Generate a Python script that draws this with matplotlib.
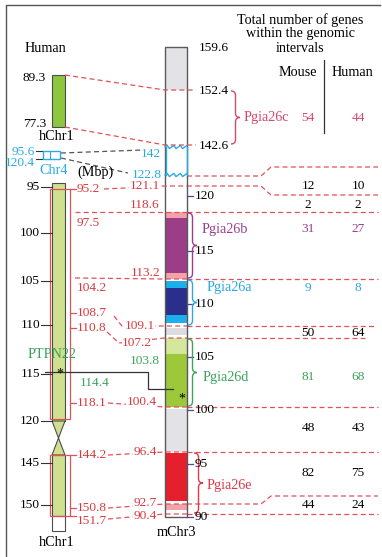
import numpy as np
import matplotlib.pyplot as plt
from matplotlib.path import Path
from matplotlib.patches import PathPatch, Rectangle, Polygon

plt.rcParams['font.family'] = ['Liberation Serif', 'DejaVu Serif']

# ---------------- data (Mbp) ----------------
hum_ticks = [95, 100, 105, 110, 115, 120, 145, 150]
mus_ticks = [120, 115, 110, 105, 100, 95, 90]
mus_top = [159.6, 152.4, 142.6]

hfrag = [89.3, 77.3]          # upper human chr1 piece
h4frag = [95.6, 120.4]        # human chr4 piece
m4frag = [142, 122.8]         # where chr4 lands on mouse chr3

# syntenic boundaries human chr1 <-> mouse chr3
hum_bounds = [95.2, 97.5, 104.2, 108.7, 110.8, 118.1, 144.2, 150.8, 151.7]
mus_bounds = [121.1, 118.6, 113.2, 109.1, 107.2, 100.4, 96.4, 92.7, 90.4]

ptpn22_h = 114.4
ptpn22_m = 103.8

# mouse chr3 bands
band_top = [159.6, 118.6, 118.05, 113.6, 112.95, 112.05, 109.55, 108.8, 107.2, 105.4, 100.2, 96.3, 92.6, 90.65]
band_bot = [152.4, 118.05, 113.6, 113.2, 112.05, 109.55, 109.22, 107.65, 105.4, 100.4, 96.4, 92.9, 91.3, 90.0]
band_col = ['#e3e3e5', '#f3a2a8', '#9c3d87', '#f3a2a8', '#1cb0ea', '#2a2f8c', '#1cb0ea',
            '#dddddf', '#d5e69d', '#9cc83a', '#e3e3e5', '#e61f2d', '#f3a2a8', '#ffffff']

# QTL intervals on mouse chr3
loci = ['Pgia26c', 'Pgia26b', 'Pgia26a', 'Pgia26d', 'Pgia26e']
loci_top = [152.4, 118.6, 113.2, 107.2, 96.4]
loci_bot = [142.6, 113.2, 109.1, 100.4, 90.4]
loci_col = ['#d6476a', '#9c3d8c', '#2aa9e0', '#3aa35c', '#e03848']

# gene counts per interval
row_mouse = [54, 12, 2, 31, 9, 50, 81, 48, 82, 44]
row_human = [44, 10, 2, 27, 8, 64, 68, 43, 75, 24]
row_col = [loci_col[0], 'k', 'k', loci_col[1], loci_col[2], 'k', loci_col[3], 'k', 'k', 'k']

# ---------------- layout (non linear schematic scales -> pixel rows) ----------------
hk_v = [94.5, 95, 97.5, 100, 104.2, 105, 108.7, 110, 110.8, 114.4, 115, 118.1, 120,
        144.2, 145, 150, 150.8, 151.7, 153.5]
hk_y = [183, 187, 212, 233, 278, 281, 313, 325, 328, 372, 374, 403, 421,
        455, 463, 505, 508, 516, 531]
mk_v = [159.6, 152.4, 142.6, 142, 122.8, 121.1, 120, 118.6, 115, 113.2, 110, 109.1,
        107.2, 105, 103.8, 100.4, 100, 96.4, 95, 92.7, 90.4, 90]
mk_y = [47, 90, 145, 147, 175, 186, 196, 212, 251, 279, 304, 326,
        338, 357, 389, 407, 410, 452, 464, 504, 514, 517]


def yh(v):
    return np.interp(v, hk_v, hk_y)


def ym(v):
    return np.interp(-np.asarray(v, float), -np.array(mk_v), mk_y)


def yf(v):
    return np.interp(-v, [-89.3, -77.3], [75, 127])


def yc(v):
    return np.interp(v, [95.6, 120.4], [151, 159])


RED = '#e0515b'
TRED = '#d8393f'
BLUE = '#29abe2'
GREEN = '#3aa35c'
FS = 9.6      # numbers
FW = 10.2     # words
DASH = (0, (4, 2.6))

fig = plt.figure(figsize=(3.82, 5.57), dpi=100)
ax = fig.add_axes([0, 0, 1, 1])
ax.set_xlim(0, 382)
ax.set_ylim(557, 0)
ax.axis('off')

# frame
ax.plot([6, 6, 380], [557, 5, 5], color='#555555', lw=1.0)


def txt(x, y, s, color='k', ha='left', size=FS, bg=False, **kw):
    t = ax.text(x, y, s, color=color, ha=ha, va='center', fontsize=size, zorder=6, **kw)
    if bg:
        t.set_bbox(dict(facecolor='white', edgecolor='none', pad=0.3))
    return t


def brace(x, y0, y1, ytip, w, color):
    r = w / 2.0
    verts = [(x, y0), (x + r, y0), (x + r, y0 + r),
             (x + r, ytip - r), (x + r, ytip), (x + w, ytip),
             (x + r, ytip), (x + r, ytip + r),
             (x + r, y1 - r), (x + r, y1), (x, y1)]
    codes = [Path.MOVETO, Path.CURVE3, Path.CURVE3, Path.LINETO, Path.CURVE3, Path.CURVE3,
             Path.CURVE3, Path.CURVE3, Path.LINETO, Path.CURVE3, Path.CURVE3]
    ax.add_patch(PathPatch(Path(verts, codes), fill=False, ec=color, lw=1.0, zorder=5))


# ---------------- human side ----------------
txt(45, 48, 'Human', ha='center', size=FW)

# upper chr1 fragment
hx0, hx1 = 52, 65
ax.add_patch(Rectangle((hx0, yf(hfrag[0])), hx1 - hx0, yf(hfrag[1]) - yf(hfrag[0]),
                       fc='#8dc63f', ec='#4d4d4d', lw=0.8, zorder=3))
txt(46, yf(hfrag[0]) + 3, '89.3', ha='right')
txt(46, yf(hfrag[1]) - 3, '77.3', ha='right')
txt(57, 137, 'hChr1', ha='center', size=FW)

# chr4 fragment
ax.add_patch(Rectangle((43, yc(h4frag[0])), 17, yc(h4frag[1]) - yc(h4frag[0]),
                       fc='white', ec=BLUE, lw=1.0, zorder=3))
ax.plot([50, 50], [yc(h4frag[0]), yc(h4frag[1])], color=BLUE, lw=0.8, zorder=3)
for v in h4frag:
    ax.plot([36, 43], [yc(v), yc(v)], color='#333333', lw=0.8)
txt(35, yc(h4frag[0]) + 1, '95.6', ha='right', color=BLUE)
txt(35, yc(h4frag[1]) + 4, '120.4', ha='right', color=BLUE)
txt(54, 171, 'Chr4', ha='center', color=BLUE, size=FW)
txt(96, 172, '(Mbp)', ha='center', size=FW)
ax.plot([61, 143], [yc(h4frag[0]) + 2, ym(m4frag[0]) + 3], color='#555555', lw=0.9, ls=DASH)
ax.plot([61, 128], [yc(h4frag[1]) - 1, ym(m4frag[1]) - 2], color='#555555', lw=0.9, ls=DASH)

# main chr1 body with centromere
hw = hx1 - hx0
hum_fill = '#cfe08e'
ax.add_patch(Rectangle((hx0, yh(94.5)), hw, yh(120) - yh(94.5), fc=hum_fill, ec='#4d4d4d', lw=0.8, zorder=3))
c0, c1 = yh(120), yh(144.2)
xm = (hx0 + hx1) / 2.0
cm = (c0 + c1) / 2.0
ax.add_patch(Polygon([(hx0, c0), (hx1, c0), (xm, cm), (hx1, c1), (hx0, c1), (xm, cm)],
                     closed=True, fc=hum_fill, ec='#4d4d4d', lw=0.8, zorder=3))
ax.add_patch(Rectangle((hx0, c1), hw, yh(151.7) - c1, fc=hum_fill, ec='#4d4d4d', lw=0.8, zorder=3))
ax.add_patch(Rectangle((hx0, yh(151.7)), hw, yh(153.5) - yh(151.7), fc='white', ec='#4d4d4d', lw=0.8, zorder=3))
txt(57, 543, 'hChr1', ha='center', size=FW)

# red synteny frames on human chr1
ax.add_patch(Rectangle((49.5, yh(95.2)), 20.5, yh(120) - 2 - yh(95.2), fill=False, ec=RED, lw=0.9, zorder=4))
ax.add_patch(Rectangle((49.5, yh(144.2)), 20.5, yh(151.7) - yh(144.2), fill=False, ec=RED, lw=0.9, zorder=4))
for v in [95.2, 108.7, 110.8, 118.1, 144.2, 150.8, 151.7]:
    ax.plot([70, 76], [yh(v), yh(v)], color=RED, lw=0.9)

# human ticks
for t in hum_ticks:
    ax.plot([41, hx0], [yh(t), yh(t)], color='#333333', lw=0.8, zorder=4)
    txt(40, yh(t), str(t), ha='right')

# human boundary labels (offset from their line where the figure does it)
hlab_dy = [0, 11, 10, 0, 0, 0, 0, 0, 5]
for v, dy in zip(hum_bounds, hlab_dy):
    txt(77, yh(v) + dy, '%.1f' % v, color=TRED)

# ---------------- mouse chr3 ----------------
mx0, mx1 = 165, 187
for t, b, c in zip(band_top, band_bot, band_col):
    ax.add_patch(Rectangle((mx0, ym(t)), mx1 - mx0, ym(b) - ym(t), fc=c, ec='none', zorder=2))
ax.add_patch(Rectangle((mx0, ym(159.6)), mx1 - mx0, ym(90) - ym(159.6), fill=False,
                       ec='#5a5a5a', lw=1.0, zorder=4))
txt(176, 533, 'mChr3', ha='center', size=FW)

# chr4 insertion with break marks
zx = np.linspace(mx0, mx1, 11)
zz = np.array([0, -1.6, 1.6] * 4)[:11]
for v in m4frag:
    ax.plot(zx, ym(v) + zz, color=BLUE, lw=1.0, zorder=5)
for x in [mx0 + 0.5, mx1 - 0.5]:
    ax.plot([x, x], [ym(m4frag[0]), ym(m4frag[1])], color=BLUE, lw=1.0, zorder=5)
txt(161, ym(m4frag[0]) + 7, '142', ha='right', color=BLUE)
txt(162, ym(m4frag[1]), '122.8', ha='right', color=BLUE)

# mouse ticks
for t in mus_ticks:
    ax.plot([mx1, mx1 + 6], [ym(t), ym(t)], color='#4b4b9a', lw=0.9, zorder=4)
    txt(195, ym(t), str(t))
for v in mus_top:
    txt(199, ym(v) + 1, '%.1f' % v)

# upper fragment connections
for hv, mv in zip(hfrag, mus_top[1:]):
    ax.plot([hx1, mx0, 196], [yf(hv), ym(mv), ym(mv)], color=RED, lw=0.9, ls=DASH, zorder=5)

# boundary connections human -> mouse
hstart = [[(104, yh(95.2))],
          [(75, yh(97.5))],
          [(75, yh(104.2))],
          [(114, yh(108.7) + 3), (122, ym(109.1))],
          [(107, yh(110.8) + 4), (119, ym(107.2) + 5)],
          [(108, yh(118.1))],
          [(108, yh(144.2))],
          [(108, yh(150.8))],
          [(108, yh(151.7) + 3)]]
mlab_x = [160, 160, 160, 155, 152, 157, 157, 157, 157]
mlab_dy = [0, -7, -6, 0, 5, -5, 0, -1, 2]
mlab_bg = [True, False, False, True, True, True, True, True, True]
for pts, mv, lx, dy, bg in zip(hstart, mus_bounds, mlab_x, mlab_dy, mlab_bg):
    xs = [p[0] for p in pts] + [mx0, mx1]
    ys = [p[1] for p in pts] + [ym(mv), ym(mv)]
    ax.plot(xs, ys, color=RED, lw=0.9, ls=DASH, zorder=5)
    txt(lx, ym(mv) + dy, '%.1f' % mv, ha='right', color=TRED, bg=bg)

# continuation of boundaries across the table
right_end = [378, 378, 378, 375, 365, 378, 378, 378, 378]
bend = {121.1: 9, 92.7: -8}
for mv, xe in zip(mus_bounds, right_end):
    y = ym(mv)
    if mv in bend:
        ax.plot([mx1, 261, 271, xe], [y, y, y + bend[mv], y + bend[mv]], color=RED, lw=0.9, ls=DASH, zorder=1)
    else:
        ax.plot([mx1, xe], [y, y], color=RED, lw=0.9, ls=DASH, zorder=1)
y = ym(m4frag[1]) + 1
ax.plot([mx1, 261, 271, 378], [y, y, y - 9, y - 9], color=RED, lw=0.9, ls=DASH, zorder=1)

# PTPN22
yp_h, yp_m = yh(ptpn22_h), ym(ptpn22_m)
ax.plot([45, 148, 148, 173], [yp_h, yp_h, yp_m, yp_m], color='#333333', lw=0.9, zorder=5)
txt(60, yp_h + 2, '*', ha='center', size=10)
txt(182, yp_m + 10, '*', ha='center', size=10)
txt(52, yp_h - 17, 'PTPN22', ha='center', color=GREEN, size=FW)
txt(80, yp_h + 11, '%.1f' % ptpn22_h, color=GREEN)
txt(145, yp_h - 11, '%.1f' % ptpn22_m, ha='center', color=GREEN)

# QTL braces and names
brace_x = [231, 188, 188, 188, 194]
name_x = [244, 202, 207, 203, 207]
name_y = [118, 229, 288, 377, 485]
for nm, t, b, c, bx, nx, ny in zip(loci, loci_top, loci_bot, loci_col, brace_x, name_x, name_y):
    y0, y1 = ym(t) + 1, ym(b) - 1
    brace(bx, y0, y1, (y0 + y1) / 2.0, 9, c)
    txt(nx, ny, nm, color=c, size=FW)

# ---------------- gene count table ----------------
for i, s in enumerate(['Total number of genes', 'within the genomic', 'intervals']):
    txt(300, 20 + 14 * i, s, ha='center', size=FW)
txt(298, 72, 'Mouse', ha='center', size=FW)
txt(352, 72, 'Human', ha='center', size=FW)
ax.plot([324, 324], [60, 133], color='#333333', lw=0.9)

row_y = [118, 186, 205, 229, 288, 333, 377, 428, 473, 505]
for nm, nh, c, y in zip(row_mouse, row_human, row_col, row_y):
    txt(308, y, str(nm), ha='center', color=c)
    txt(358, y, str(nh), ha='center', color=c)

fig.savefig('out.png', dpi=100)
